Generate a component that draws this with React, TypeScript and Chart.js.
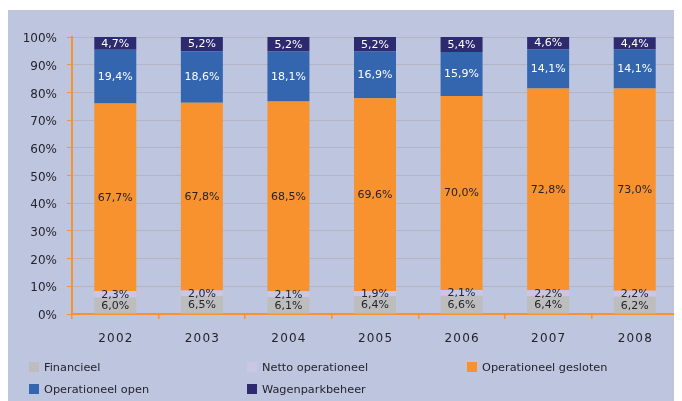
import React, { useEffect, useRef } from "react";
import { Chart, registerables } from "chart.js";
Chart.register(...registerables);

const years = ["2002", "2003", "2004", "2005", "2006", "2007", "2008"];
const financieel = [6.0, 6.5, 6.1, 6.4, 6.6, 6.4, 6.2];
const netto = [2.3, 2.0, 2.1, 1.9, 2.1, 2.2, 2.2];
const gesloten = [67.7, 67.8, 68.5, 69.6, 70.0, 72.8, 73.0];
const open = [19.4, 18.6, 18.1, 16.9, 15.9, 14.1, 14.1];
const wagenpark = [4.7, 5.2, 5.2, 5.2, 5.4, 4.6, 4.4];

const seriesNames = ["Financieel", "Netto operationeel", "Operationeel gesloten", "Operationeel open", "Wagenparkbeheer"];
const seriesColors = ["#BDBDBD", "#CAC7E6", "#F7922E", "#3466B0", "#2E2A70"];
const labelColors = ["#23232e", "#23232e", "#23232e", "#ffffff", "#ffffff"];

const TICK_FONT = "'DejaVu Sans', Verdana, sans-serif";

const valueLabels = {
  id: "valueLabels",
  afterDatasetsDraw(chart: any) {
    const ctx = chart.ctx;
    ctx.save();
    ctx.font = `11px ${TICK_FONT}`;
    ctx.textAlign = "center";
    ctx.textBaseline = "middle";
    chart.data.datasets.forEach((ds: any, di: number) => {
      const meta = chart.getDatasetMeta(di);
      meta.data.forEach((el: any, i: number) => {
        const v = ds.data[i];
        const y = (el.y + el.base) / 2;
        ctx.fillStyle = labelColors[di];
        ctx.fillText(v.toFixed(1).replace(".", ",") + "%", el.x, y + 0.5);
      });
    });
    ctx.restore();
  },
};

export default function App() {
  const ref = useRef<HTMLCanvasElement | null>(null);
  useEffect(() => {
    if (!ref.current) return;
    const data = [financieel, netto, gesloten, open, wagenpark];
    const chart = new Chart(ref.current, {
      type: "bar",
      data: {
        labels: years,
        datasets: data.map((d, i) => ({
          label: seriesNames[i],
          data: d,
          backgroundColor: seriesColors[i],
          borderWidth: 0,
          categoryPercentage: 1,
          barPercentage: 0.485,
        })),
      },
      options: {
        responsive: false,
        animation: false,
        devicePixelRatio: 1,
        layout: { padding: { top: 27, right: 2, left: 0, bottom: 47 } },
        plugins: { legend: { display: false }, tooltip: { enabled: false } },
        scales: {
          x: {
            stacked: true,
            afterFit: (s: any) => { s.height = 40; },
            border: { color: "#F7922E", width: 2 },
            grid: { display: true, drawOnChartArea: false, offset: true, tickColor: "#F7922E", tickLength: 5, lineWidth: 1.5 },
            ticks: {
              padding: 13,
              color: "#23232e",
              font: { family: TICK_FONT, size: 12 },
              callback: (_v: any, i: number) => years[i].split("").join("\u200A"),
            },
          },
          y: {
            stacked: true,
            min: 0,
            max: 100,
            afterFit: (s: any) => { s.width = 64; },
            border: { color: "#F7922E", width: 2 },
            grid: { color: "#B3B5C4", lineWidth: 1, tickColor: "#F7922E", tickLength: 5 },
            ticks: {
              stepSize: 10,
              padding: 10,
              labelOffset: 2,
              color: "#23232e",
              font: { family: TICK_FONT, size: 12 },
              callback: (v: any) => v + "%",
            },
          },
        },
      },
      plugins: [valueLabels],
    });
    return () => chart.destroy();
  }, []);

  const cols = [21, 239, 459];
  const rows = [352, 374];
  return (
    <div style={{ paddingTop: 2 }}>
      <div style={{ position: "relative", width: 672, height: 391, background: "#BEC5DF" }}>
        <canvas ref={ref} width={672} height={391} style={{ display: "block" }} />
        {seriesNames.map((name, i) => (
          <div
            key={name}
            style={{
              position: "absolute",
              left: cols[i % 3],
              top: rows[Math.floor(i / 3)],
              display: "flex",
              alignItems: "center",
              height: 10,
              fontFamily: TICK_FONT,
              fontSize: 11.3,
              color: "#23232e",
              whiteSpace: "nowrap",
            }}
          >
            <span style={{ display: "inline-block", width: 10, height: 10, background: seriesColors[i], marginRight: 5 }} />
            <span>{name}</span>
          </div>
        ))}
      </div>
    </div>
  );
}
